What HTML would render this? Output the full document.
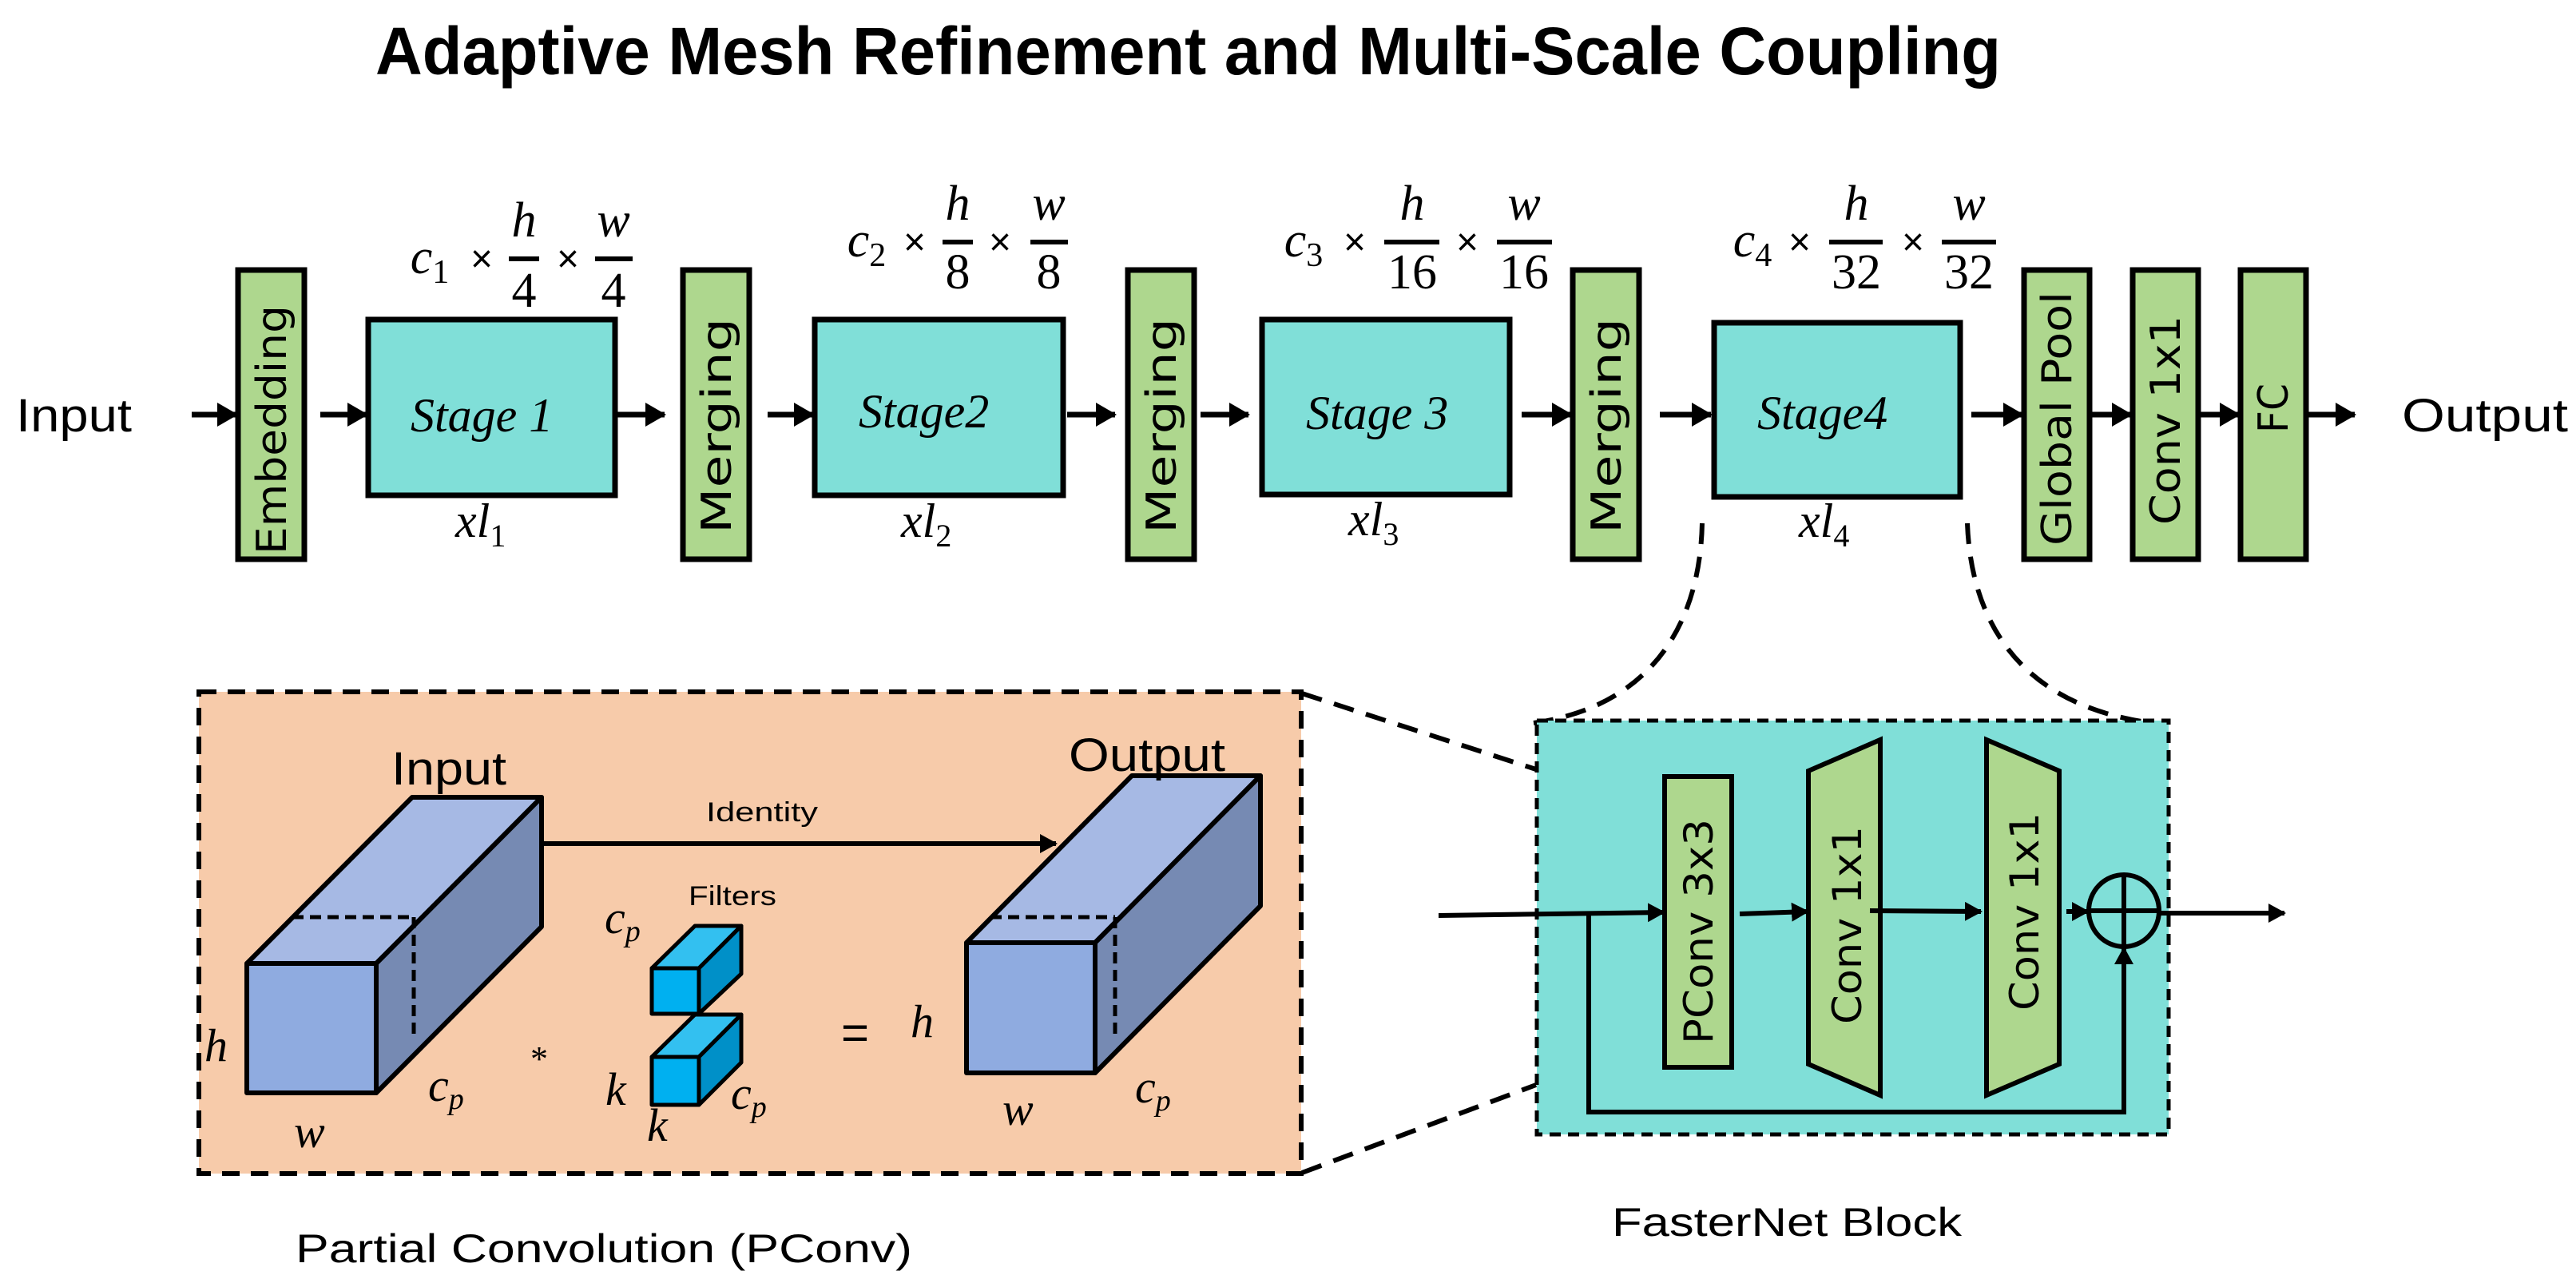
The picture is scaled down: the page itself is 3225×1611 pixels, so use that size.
<!DOCTYPE html>
<html><head><meta charset="utf-8"><style>html,body{margin:0;padding:0;background:#fff}svg{display:block}</style></head>
<body>
<svg width="3225" height="1611" viewBox="0 0 3225 1611" xmlns="http://www.w3.org/2000/svg">
<defs>
<marker id="a" markerUnits="userSpaceOnUse" markerWidth="26" markerHeight="30" refX="24" refY="15" orient="auto"><path d="M0,0 L26,15 L0,30 Z" fill="#000"/></marker>
<marker id="b" markerUnits="userSpaceOnUse" markerWidth="22" markerHeight="24" refX="20" refY="12" orient="auto"><path d="M0,0 L22,12 L0,24 Z" fill="#000"/></marker>
</defs>
<text x="470" y="93" font-family="Liberation Sans, sans-serif" font-weight="bold" font-size="84" textLength="2035" lengthAdjust="spacingAndGlyphs">Adaptive Mesh Refinement and Multi-Scale Coupling</text>

<!-- top row -->
<g font-family="Liberation Sans, sans-serif" font-size="58"><text x="20" y="540" textLength="145" lengthAdjust="spacingAndGlyphs">Input</text><text x="3007" y="540" textLength="208" lengthAdjust="spacingAndGlyphs">Output</text></g>
<g stroke="#000" stroke-width="7" fill="#aed78e">
<rect x="298" y="338" width="83" height="362"/>
<rect x="855" y="338" width="83" height="362"/>
<rect x="1412" y="338" width="83" height="362"/>
<rect x="1969" y="338" width="83" height="362"/>
<rect x="2534" y="338" width="82" height="362"/>
<rect x="2670" y="338" width="82" height="362"/>
<rect x="2805" y="338" width="82" height="362"/>
</g>
<g stroke="#000" stroke-width="7" fill="#80dfd8">
<rect x="461" y="400" width="309" height="220"/>
<rect x="1020" y="400" width="311" height="220"/>
<rect x="1580" y="400" width="310" height="219"/>
<rect x="2146" y="404" width="308" height="218"/>
</g>
<g font-family="DejaVu Sans, sans-serif" font-size="52" fill="#000">
<text transform="translate(358,694) rotate(-90)" textLength="312" lengthAdjust="spacingAndGlyphs">Embedding</text>
<text transform="translate(915,668) rotate(-90)" textLength="270" lengthAdjust="spacingAndGlyphs">Merging</text>
<text transform="translate(1472,668) rotate(-90)" textLength="270" lengthAdjust="spacingAndGlyphs">Merging</text>
<text transform="translate(2029,668) rotate(-90)" textLength="270" lengthAdjust="spacingAndGlyphs">Merging</text>
<text transform="translate(2593,683) rotate(-90)" textLength="318" lengthAdjust="spacingAndGlyphs">Global Pool</text>
<text transform="translate(2729,657) rotate(-90)" textLength="262" lengthAdjust="spacingAndGlyphs">Conv 1x1</text>
<text transform="translate(2864,542) rotate(-90)" textLength="62" lengthAdjust="spacingAndGlyphs">FC</text>
</g>
<g font-family="Liberation Serif, serif" font-style="italic" font-size="60" fill="#000">
<text x="514" y="540">Stage 1</text>
<text x="1075" y="535">Stage2</text>
<text x="1635" y="537">Stage 3</text>
<text x="2200" y="537">Stage4</text>
<text x="570" y="672">xl<tspan font-size="40" dy="12" font-style="normal">1</tspan></text>
<text x="1128" y="672">xl<tspan font-size="40" dy="12" font-style="normal">2</tspan></text>
<text x="1688" y="670">xl<tspan font-size="40" dy="12" font-style="normal">3</tspan></text>
<text x="2252" y="672">xl<tspan font-size="40" dy="12" font-style="normal">4</tspan></text>
</g>
<!-- dims -->
<g font-family="Liberation Serif, serif" font-size="62" fill="#000" text-anchor="middle">
<text x="538" y="342" font-style="italic">c<tspan font-size="42" dy="12" font-style="normal">1</tspan></text>
<text x="603" y="340" font-family="Liberation Sans, sans-serif" font-size="48">×</text>
<text x="711" y="340" font-family="Liberation Sans, sans-serif" font-size="48">×</text>
<text x="656" y="296" font-style="italic">h</text><text x="656" y="384">4</text>
<text x="768" y="296" font-style="italic">w</text><text x="768" y="384">4</text>
<line x1="637" y1="324" x2="675" y2="324" stroke="#000" stroke-width="6"/>
<line x1="745" y1="324" x2="792" y2="324" stroke="#000" stroke-width="6"/>

<text x="1085" y="321" font-style="italic">c<tspan font-size="42" dy="12" font-style="normal">2</tspan></text>
<text x="1145" y="319" font-family="Liberation Sans, sans-serif" font-size="48">×</text>
<text x="1252" y="319" font-family="Liberation Sans, sans-serif" font-size="48">×</text>
<text x="1199" y="275" font-style="italic">h</text><text x="1199" y="361">8</text>
<text x="1313" y="275" font-style="italic">w</text><text x="1313" y="361">8</text>
<line x1="1180" y1="303" x2="1218" y2="303" stroke="#000" stroke-width="6"/>
<line x1="1290" y1="303" x2="1337" y2="303" stroke="#000" stroke-width="6"/>

<text x="1632" y="321" font-style="italic">c<tspan font-size="42" dy="12" font-style="normal">3</tspan></text>
<text x="1696" y="319" font-family="Liberation Sans, sans-serif" font-size="48">×</text>
<text x="1837" y="319" font-family="Liberation Sans, sans-serif" font-size="48">×</text>
<text x="1768" y="275" font-style="italic">h</text><text x="1768" y="361">16</text>
<text x="1908" y="275" font-style="italic">w</text><text x="1908" y="361">16</text>
<line x1="1733" y1="303" x2="1802" y2="303" stroke="#000" stroke-width="6"/>
<line x1="1874" y1="303" x2="1943" y2="303" stroke="#000" stroke-width="6"/>

<text x="2194" y="321" font-style="italic">c<tspan font-size="42" dy="12" font-style="normal">4</tspan></text>
<text x="2253" y="319" font-family="Liberation Sans, sans-serif" font-size="48">×</text>
<text x="2395" y="319" font-family="Liberation Sans, sans-serif" font-size="48">×</text>
<text x="2324" y="275" font-style="italic">h</text><text x="2324" y="361">32</text>
<text x="2465" y="275" font-style="italic">w</text><text x="2465" y="361">32</text>
<line x1="2290" y1="303" x2="2357" y2="303" stroke="#000" stroke-width="6"/>
<line x1="2431" y1="303" x2="2499" y2="303" stroke="#000" stroke-width="6"/>
</g>
<g stroke="#000" stroke-width="7" marker-end="url(#a)">
<line x1="240" y1="519" x2="296" y2="519"/>
<line x1="401" y1="519" x2="459" y2="519"/>
<line x1="773" y1="519" x2="832" y2="519"/>
<line x1="961" y1="519" x2="1018" y2="519"/>
<line x1="1336" y1="519" x2="1396" y2="519"/>
<line x1="1503" y1="519" x2="1563" y2="519"/>
<line x1="1905" y1="519" x2="1967" y2="519"/>
<line x1="2078" y1="519" x2="2142" y2="519"/>
<line x1="2468" y1="519" x2="2532" y2="519"/>
<line x1="2617" y1="519" x2="2668" y2="519"/>
<line x1="2753" y1="519" x2="2803" y2="519"/>
<line x1="2889" y1="519" x2="2948" y2="519"/>
</g>
<!-- dashed connectors -->
<g stroke="#000" stroke-width="6" fill="none" stroke-dasharray="26,16">
<path d="M2131,655 C2128,790 2060,885 1920,905"/>
<path d="M2463,655 C2468,790 2540,885 2695,905"/>
<line x1="1630" y1="868" x2="1923" y2="963"/>
<line x1="1630" y1="1468" x2="1923" y2="1358"/>
</g>

<!-- left panel -->
<rect x="249" y="866" width="1380" height="603" fill="#f7cbaa" stroke="#000" stroke-width="6" stroke-dasharray="22,14"/>
<g stroke="#000" stroke-width="6" stroke-linejoin="round">
<polygon points="309,1206 516,998 678,998 471,1206" fill="#a6b9e4"/>
<polygon points="471,1206 678,998 678,1160 471,1368" fill="#768ab3"/>
<rect x="309" y="1206" width="162" height="162" fill="#8fabe0"/>
<polygon points="1210,1180 1417,971 1578,971 1371,1180" fill="#a6b9e4"/>
<polygon points="1371,1180 1578,971 1578,1134 1371,1343" fill="#768ab3"/>
<rect x="1210" y="1180" width="161" height="163" fill="#8fabe0"/>
</g>
<g stroke="#000" stroke-width="5" stroke-dasharray="14,8" fill="none">
<line x1="366" y1="1148" x2="518" y2="1148"/><line x1="518" y1="1148" x2="518" y2="1300"/>
<line x1="1240" y1="1148" x2="1396" y2="1148"/><line x1="1396" y1="1148" x2="1396" y2="1300"/>
</g>
<line x1="678" y1="1056" x2="1322" y2="1056" stroke="#000" stroke-width="6" marker-end="url(#b)"/>
<g stroke="#000" stroke-width="5" stroke-linejoin="round">
<polygon points="816,1212 870,1159 928,1159 875,1212" fill="#33c0f0"/>
<polygon points="875,1212 928,1159 928,1219 875,1269" fill="#0090c8"/>
<rect x="816" y="1212" width="59" height="57" fill="#00b0f0"/>
<polygon points="816,1323 870,1270 928,1270 875,1323" fill="#33c0f0"/>
<polygon points="875,1323 928,1270 928,1330 875,1383" fill="#0090c8"/>
<rect x="816" y="1323" width="59" height="60" fill="#00b0f0"/>
</g>
<g font-family="Liberation Sans, sans-serif" fill="#000">
<text x="490" y="982" font-size="58" textLength="144" lengthAdjust="spacingAndGlyphs">Input</text>
<text x="1338" y="965" font-size="58" textLength="196" lengthAdjust="spacingAndGlyphs">Output</text>
<text x="884" y="1028" font-size="34" textLength="140" lengthAdjust="spacingAndGlyphs">Identity</text>
<text x="862" y="1133" font-size="34" textLength="110" lengthAdjust="spacingAndGlyphs">Filters</text>
<text x="1053" y="1313" font-size="60">=</text>
</g>
<g font-family="Liberation Serif, serif" font-style="italic" font-size="58" fill="#000">
<text x="256" y="1328">h</text>
<text x="536" y="1378">c<tspan font-size="38" dy="10">p</tspan></text>
<text x="368" y="1436">w</text>
<text x="664" y="1340" font-style="normal" font-size="44">*</text>
<text x="758" y="1383">k</text>
<text x="810" y="1428">k</text>
<text x="915" y="1388">c<tspan font-size="38" dy="10">p</tspan></text>
<text x="757" y="1168">c<tspan font-size="38" dy="10">p</tspan></text>
<text x="1140" y="1298">h</text>
<text x="1255" y="1408">w</text>
<text x="1421" y="1380">c<tspan font-size="38" dy="10">p</tspan></text>
</g>
<g font-family="Liberation Sans, sans-serif" font-size="50" fill="#000">
<text x="370" y="1580" textLength="772" lengthAdjust="spacingAndGlyphs">Partial Convolution (PConv)</text>
<text x="2018" y="1547" textLength="438" lengthAdjust="spacingAndGlyphs">FasterNet Block</text>
</g>

<!-- FasterNet block -->
<rect x="1924" y="902" width="791" height="518" fill="#80dfd8" stroke="#000" stroke-width="5" stroke-dasharray="14,9"/>
<g stroke="#000" stroke-width="6" fill="#aed78e">
<rect x="2084" y="972" width="84" height="364"/>
<polygon points="2264,965 2354,926 2354,1371 2264,1332"/>
<polygon points="2487,926 2578,965 2578,1332 2487,1371"/>
</g>
<g font-family="DejaVu Sans, sans-serif" font-size="50" fill="#000">
<text transform="translate(2144,1307) rotate(-90)" textLength="282" lengthAdjust="spacingAndGlyphs">PConv 3x3</text>
<text transform="translate(2330,1282) rotate(-90)" textLength="248" lengthAdjust="spacingAndGlyphs">Conv 1x1</text>
<text transform="translate(2552,1265) rotate(-90)" textLength="248" lengthAdjust="spacingAndGlyphs">Conv 1x1</text>
</g>
<ellipse cx="2659" cy="1140" rx="44" ry="45" fill="none" stroke="#000" stroke-width="6"/>
<line x1="2659" y1="1095" x2="2659" y2="1185" stroke="#000" stroke-width="6"/>
<line x1="2614" y1="1140" x2="2704" y2="1140" stroke="#000" stroke-width="6"/>
<g stroke="#000" stroke-width="6" fill="none">
<line x1="1801" y1="1146" x2="2083" y2="1142" marker-end="url(#b)"/>
<line x1="2178" y1="1144" x2="2263" y2="1141" marker-end="url(#b)"/>
<line x1="2341" y1="1140" x2="2480" y2="1141" marker-end="url(#b)"/>
<line x1="2587" y1="1141" x2="2614" y2="1141" marker-end="url(#b)"/>
<line x1="2704" y1="1143" x2="2860" y2="1143" marker-end="url(#b)"/>
<polyline points="1989,1145 1989,1392 2659,1392 2659,1187" marker-end="url(#b)"/>
</g>
</svg>
</body></html>
